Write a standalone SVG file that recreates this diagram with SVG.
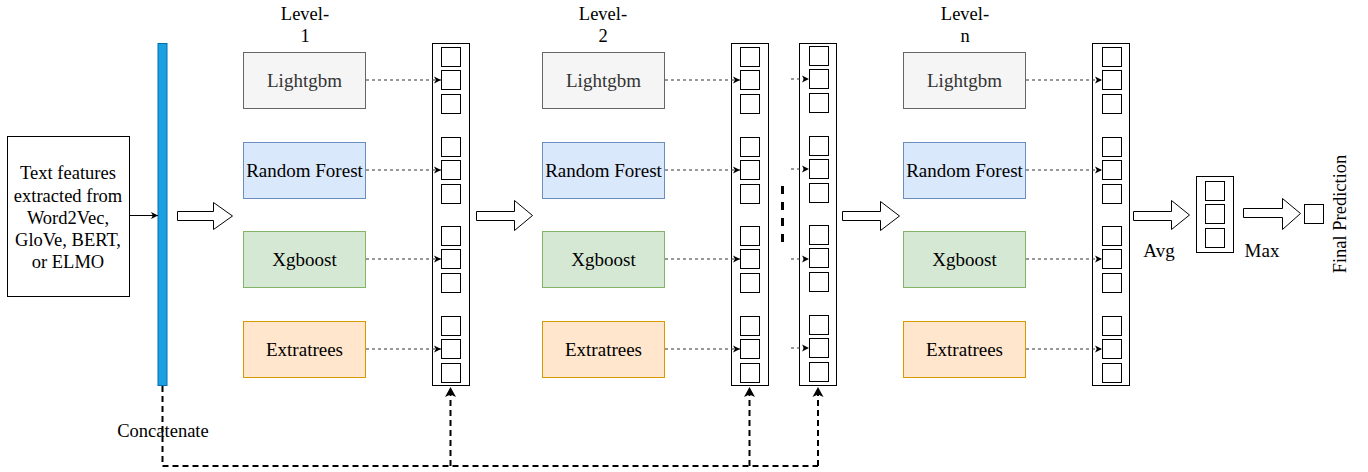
<svg xmlns="http://www.w3.org/2000/svg" width="1368" height="472" viewBox="0 0 1368 472">
  <defs>
    <style>
      text { font-family: "Liberation Serif", "Times New Roman", serif; font-size: 18.5px; fill: #000; }
      .mid { text-anchor: middle; }
      .lbl { font-size: 19px; }
      .box { stroke-width: 1; }
      .gray { fill: #f5f5f5; stroke: #666666; }
      .blue { fill: #dae8fc; stroke: #6c8ebf; }
      .green { fill: #d5e8d4; stroke: #82b366; }
      .orange { fill: #ffe6cc; stroke: #d79b00; }
      .col { fill: #fff; stroke: #000; stroke-width: 1; }
      .cell { fill: #fff; stroke: #000; stroke-width: 1; }
      .dot { fill: none; stroke: #333; stroke-width: 1; stroke-dasharray: 3 3; }
      .dash { fill: none; stroke: #000; stroke-width: 2; stroke-dasharray: 6 4; }
      .block { fill: #fff; stroke: #000; stroke-width: 1; }
    </style>
    <marker id="tip" markerUnits="userSpaceOnUse" markerWidth="8" markerHeight="8" refX="7" refY="4" orient="auto">
      <path d="M0,0.5 L7,4 L0,7.5 L1.8,4 Z" fill="#000"/>
    </marker>
    <marker id="tipBig" markerUnits="userSpaceOnUse" markerWidth="12" markerHeight="12" refX="10" refY="6" orient="auto">
      <path d="M0,0.5 L10,6 L0,11.5 L2.5,6 Z" fill="#000"/>
    </marker>
    <!-- one stacked output column: four groups of three cells -->
    <g id="cells">
      <rect class="cell" x="0" y="0" width="19" height="19"/>
      <rect class="cell" x="0" y="23" width="19" height="19"/>
      <rect class="cell" x="0" y="47" width="19" height="19"/>
      <rect class="cell" x="0" y="90" width="19" height="19"/>
      <rect class="cell" x="0" y="113" width="19" height="19"/>
      <rect class="cell" x="0" y="137" width="19" height="19"/>
      <rect class="cell" x="0" y="179" width="19" height="19"/>
      <rect class="cell" x="0" y="202" width="19" height="19"/>
      <rect class="cell" x="0" y="226" width="19" height="19"/>
      <rect class="cell" x="0" y="269" width="19" height="19"/>
      <rect class="cell" x="0" y="292" width="19" height="19"/>
      <rect class="cell" x="0" y="316" width="19" height="19"/>
    </g>
  </defs>

  <rect width="1368" height="472" fill="#fff"/>

  <!-- input features -->
  <g id="input">
    <rect x="7.5" y="136.5" width="122" height="160" fill="#fff" stroke="#000"/>
    <text class="mid" x="68" y="179">Text features</text>
    <text class="mid" x="68" y="201.5">extracted from</text>
    <text class="mid" x="68" y="224">Word2Vec,</text>
    <text class="mid" x="68" y="246">GloVe, BERT,</text>
    <text class="mid" x="68" y="268">or ELMO</text>
  </g>

  <!-- concatenation bar -->
  <g id="concat">
    <rect x="158" y="43.5" width="9" height="342" fill="#1ba1e2" stroke="#006eaf"/>
    <text class="mid" x="163" y="437">Concatenate</text>
  </g>

  <!-- level 1 -->
  <g id="level1">
    <text class="mid" x="305" y="20">Level-</text>
    <text class="mid" x="305" y="42">1</text>
    <g id="l1-lgbm"><rect class="box gray" x="243.5" y="52.5" width="122" height="56"/><text class="mid lbl" x="304.5" y="87" style="fill:#333">Lightgbm</text></g>
    <g id="l1-rf"><rect class="box blue" x="243.5" y="142.5" width="122" height="56"/><text class="mid lbl" x="304.5" y="177">Random Forest</text></g>
    <g id="l1-xgb"><rect class="box green" x="243.5" y="231.5" width="122" height="56"/><text class="mid lbl" x="304.5" y="266">Xgboost</text></g>
    <g id="l1-et"><rect class="box orange" x="243.5" y="321.5" width="122" height="56"/><text class="mid lbl" x="304.5" y="356">Extratrees</text></g>
  </g>
  <g id="col1">
    <rect class="col" x="432.5" y="43.5" width="37" height="342"/>
    <use href="#cells" x="441.5" y="47.5"/>
  </g>

  <!-- level 2 -->
  <g id="level2">
    <text class="mid" x="603" y="20">Level-</text>
    <text class="mid" x="603" y="42">2</text>
    <g id="l2-lgbm"><rect class="box gray" x="542.5" y="52.5" width="122" height="56"/><text class="mid lbl" x="603.5" y="87" style="fill:#333">Lightgbm</text></g>
    <g id="l2-rf"><rect class="box blue" x="542.5" y="142.5" width="122" height="56"/><text class="mid lbl" x="603.5" y="177">Random Forest</text></g>
    <g id="l2-xgb"><rect class="box green" x="542.5" y="231.5" width="122" height="56"/><text class="mid lbl" x="603.5" y="266">Xgboost</text></g>
    <g id="l2-et"><rect class="box orange" x="542.5" y="321.5" width="122" height="56"/><text class="mid lbl" x="603.5" y="356">Extratrees</text></g>
  </g>
  <g id="col2">
    <rect class="col" x="731.5" y="43.5" width="37" height="342"/>
    <use href="#cells" x="740.5" y="47.5"/>
  </g>
  <g id="col3">
    <rect class="col" x="799.5" y="43.5" width="37" height="342"/>
    <use href="#cells" x="809.5" y="46.5"/>
  </g>
  <g id="ellipsis">
    <line x1="782.5" y1="186" x2="782.5" y2="242" stroke="#000" stroke-width="3" stroke-dasharray="8 8"/>
  </g>

  <!-- level n -->
  <g id="leveln">
    <text class="mid" x="965" y="20">Level-</text>
    <text class="mid" x="965" y="42">n</text>
    <g id="ln-lgbm"><rect class="box gray" x="903.5" y="52.5" width="122" height="56"/><text class="mid lbl" x="964.5" y="87" style="fill:#333">Lightgbm</text></g>
    <g id="ln-rf"><rect class="box blue" x="903.5" y="142.5" width="122" height="56"/><text class="mid lbl" x="964.5" y="177">Random Forest</text></g>
    <g id="ln-xgb"><rect class="box green" x="903.5" y="231.5" width="122" height="56"/><text class="mid lbl" x="964.5" y="266">Xgboost</text></g>
    <g id="ln-et"><rect class="box orange" x="903.5" y="321.5" width="122" height="56"/><text class="mid lbl" x="964.5" y="356">Extratrees</text></g>
  </g>
  <g id="coln">
    <rect class="col" x="1092.5" y="43.5" width="37" height="342"/>
    <use href="#cells" x="1102.5" y="47.5"/>
  </g>

  <!-- averaging and final output -->
  <g id="avg">
    <rect class="col" x="1196.5" y="176.5" width="37" height="76"/>
    <rect class="cell" x="1205.5" y="181.5" width="19" height="19"/>
    <rect class="cell" x="1205.5" y="204.5" width="19" height="19"/>
    <rect class="cell" x="1205.5" y="228.5" width="19" height="19"/>
    <text class="mid lbl" x="1159" y="257">Avg</text>
  </g>
  <g id="max">
    <text class="mid lbl" x="1262" y="257">Max</text>
  </g>
  <g id="final">
    <rect class="cell" x="1304.5" y="204.5" width="19" height="19"/>
    <text class="mid" transform="translate(1346 214) rotate(-90)" x="0" y="0">Final Prediction</text>
  </g>

  <!-- connectors -->
  <g id="connectors">
    <line x1="129.5" y1="215.5" x2="158" y2="215.5" stroke="#000" marker-end="url(#tip)"/>

    <path class="block" d="M177.5,211.5 H213.5 V202.5 L232.5,216 L213.5,229.5 V220.5 H177.5 Z"/>
    <path class="block" d="M476.5,211.5 H514.5 V200.5 L532.5,215.5 L514.5,230.5 V220.5 H476.5 Z"/>
    <path class="block" d="M842.5,211.5 H880.5 V201.5 L899.5,216 L880.5,230.5 V220.5 H842.5 Z"/>
    <path class="block" d="M1133.5,211.5 H1171.5 V200.5 L1189.5,215 L1171.5,229.5 V220.5 H1133.5 Z"/>
    <path class="block" d="M1243.5,208.5 H1282.5 V198.5 L1300.5,213.5 L1282.5,229.5 V217.5 H1243.5 Z"/>

    <line class="dot" x1="366" y1="80" x2="441" y2="80" marker-end="url(#tip)"/>
    <line class="dot" x1="366" y1="170" x2="441" y2="170" marker-end="url(#tip)"/>
    <line class="dot" x1="366" y1="259" x2="441" y2="259" marker-end="url(#tip)"/>
    <line class="dot" x1="366" y1="349" x2="441" y2="349" marker-end="url(#tip)"/>

    <line class="dot" x1="665" y1="80" x2="740" y2="80" marker-end="url(#tip)"/>
    <line class="dot" x1="665" y1="170" x2="740" y2="170" marker-end="url(#tip)"/>
    <line class="dot" x1="665" y1="259" x2="740" y2="259" marker-end="url(#tip)"/>
    <line class="dot" x1="665" y1="349" x2="740" y2="349" marker-end="url(#tip)"/>

    <line class="dot" x1="791" y1="79" x2="809" y2="79" marker-end="url(#tip)"/>
    <line class="dot" x1="791" y1="169" x2="809" y2="169" marker-end="url(#tip)"/>
    <line class="dot" x1="791" y1="259" x2="809" y2="259" marker-end="url(#tip)"/>
    <line class="dot" x1="791" y1="348" x2="809" y2="348" marker-end="url(#tip)"/>

    <line class="dot" x1="1026" y1="80" x2="1102" y2="80" marker-end="url(#tip)"/>
    <line class="dot" x1="1026" y1="170" x2="1102" y2="170" marker-end="url(#tip)"/>
    <line class="dot" x1="1026" y1="259" x2="1102" y2="259" marker-end="url(#tip)"/>
    <line class="dot" x1="1026" y1="349" x2="1102" y2="349" marker-end="url(#tip)"/>

    <!-- feedback of the concatenated features into every stacked column -->
    <path class="dash" d="M162.5,386 V466 H818"/>
    <line class="dash" x1="450.5" y1="466" x2="450.5" y2="387" marker-end="url(#tipBig)"/>
    <line class="dash" x1="749.5" y1="466" x2="749.5" y2="387" marker-end="url(#tipBig)"/>
    <line class="dash" x1="818" y1="466" x2="818" y2="387" marker-end="url(#tipBig)"/>
  </g>
</svg>
